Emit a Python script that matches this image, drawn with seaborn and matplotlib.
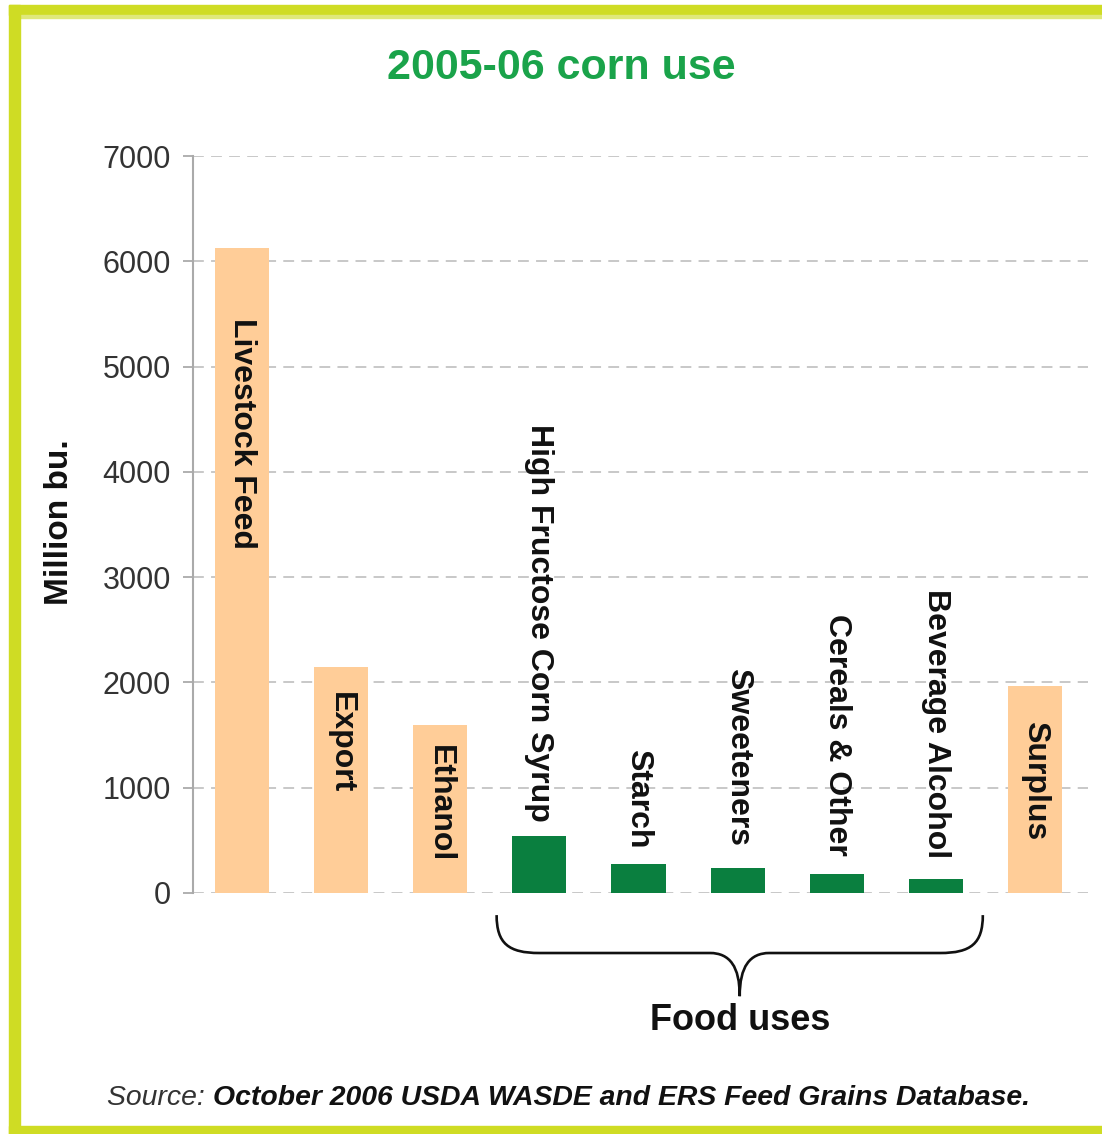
import pandas as pd
import seaborn as sns
import matplotlib.pyplot as plt
from matplotlib.path import Path
from matplotlib.patches import PathPatch, Rectangle

# values (million bushels)
categories = ['Livestock Feed', 'Export', 'Ethanol', 'High Fructose Corn Syrup',
              'Starch', 'Sweeteners', 'Cereals & Other', 'Beverage Alcohol', 'Surplus']
values = [6130, 2150, 1600, 540, 280, 235, 185, 135, 1970]
groups = ['other', 'other', 'other', 'food', 'food', 'food', 'food', 'food', 'other']
y_ticks = [0, 1000, 2000, 3000, 4000, 5000, 6000, 7000]

df = pd.DataFrame({'use': categories, 'bu': values, 'group': groups})

ORANGE = '#ffcd98'
GREEN = '#0a7f3f'
BORDER = '#cfdc24'
TITLE_GREEN = '#1aa34a'

sns.set_style('white')
plt.rcParams['font.family'] = ['Liberation Sans', 'DejaVu Sans']

fig = plt.figure(figsize=(11.02, 11.34), dpi=100)
W, H = 1102, 1134
ax = fig.add_axes([193 / W, 1 - 893 / H, (1088 - 193) / W, (893 - 156) / H])

sns.barplot(data=df, x='use', y='bu', hue='group',
            palette={'other': ORANGE, 'food': GREEN},
            width=0.545, dodge=False, legend=False, ax=ax,
            saturation=1, linewidth=0)

ax.set_xlim(-0.49, 8.53)
ax.set_ylim(0, 7000)
ax.set_yticks(y_ticks)
ax.set_yticklabels([str(t) for t in y_ticks], fontsize=22, color='#333333')
ax.set_xticks([])
ax.set_xlabel('')
ax.set_ylabel('')
ax.yaxis.grid(True, color='#c4c4c4', linestyle=(0, (6, 4)), linewidth=1.3)
ax.set_axisbelow(True)
ax.tick_params(axis='y', length=7, width=1.3, color='#aaaaaa', pad=9, left=True)
for s in ['top', 'right', 'bottom']:
    ax.spines[s].set_visible(False)
ax.spines['left'].set_color('#aaaaaa')
ax.spines['left'].set_linewidth(1.5)

# rotated labels: inside orange bars, above green bars
label_gap = [70, 25, 20, 14, 15, 22, 18, 21, 35]
for i, (name, v, g) in enumerate(zip(categories, values, groups)):
    if g == 'food':
        ax.annotate(name, (i, v), xytext=(0, label_gap[i]), textcoords='offset pixels',
                    rotation=-90, ha='center', va='bottom', fontsize=23,
                    fontweight='bold', color='#111111')
    else:
        ax.annotate(name, (i, v), xytext=(0, -label_gap[i]), textcoords='offset pixels',
                    rotation=-90, ha='center', va='top', fontsize=23,
                    fontweight='bold', color='#111111')

# brace under the food uses
food_idx = [i for i, g in enumerate(groups) if g == 'food']
x0, x1 = food_idx[0] - 0.43, food_idx[-1] + 0.47
xc = (x0 + x1) / 2
yt, ym, yb = -210, -570, -980
verts = [(x0, yt), (x0, -480), (x0 + 0.12, ym), (x0 + 0.43, ym),
         (xc - 0.3, ym),
         (xc - 0.1, ym), (xc, -700), (xc, yb),
         (xc, -700), (xc + 0.1, ym), (xc + 0.3, ym),
         (x1 - 0.43, ym),
         (x1 - 0.12, ym), (x1, -480), (x1, yt)]
codes = [Path.MOVETO, Path.CURVE4, Path.CURVE4, Path.CURVE4,
         Path.LINETO,
         Path.CURVE4, Path.CURVE4, Path.CURVE4,
         Path.CURVE4, Path.CURVE4, Path.CURVE4,
         Path.LINETO,
         Path.CURVE4, Path.CURVE4, Path.CURVE4]
ax.add_patch(PathPatch(Path(verts, codes), fill=False, lw=1.9,
                       edgecolor='#111111', clip_on=False))
ax.text(xc, -1215, 'Food uses', ha='center', va='center', fontsize=26,
        fontweight='bold', color='#111111', clip_on=False)

# title, axis label, source
fig.text(561 / W, 1 - 79 / H, '2005-06 corn use', ha='center', va='baseline',
         fontsize=31, fontweight='bold', color=TITLE_GREEN)
fig.text(59 / W, 1 - 522 / H, 'Million bu.', rotation=90, ha='center', va='center',
         fontsize=24, fontweight='bold', color='#111111')
src = fig.text(107 / W, 1 - 1105 / H, 'Source: ', ha='left', va='baseline',
               fontsize=20.4, style='italic', color='#333333')
ax.annotate('October 2006 USDA WASDE and ERS Feed Grains Database.',
            xy=(1, 0), xycoords=src, va='bottom', ha='left', fontsize=20.4,
            style='italic', fontweight='bold', color='#111111', annotation_clip=False)

# yellow-green frame (top, left, bottom)
fig.patches.append(Rectangle((9 / W, 1 - 15 / H), 1, 10 / H, transform=fig.transFigure,
                             color=BORDER, zorder=0))
fig.patches.append(Rectangle((20 / W, 1 - 18 / H), 1, 3 / H, transform=fig.transFigure,
                             color='#dfe87a', zorder=0))
fig.patches.append(Rectangle((9 / W, 0), 11 / W, 1 - 5 / H, transform=fig.transFigure,
                             color=BORDER, zorder=0))
fig.patches.append(Rectangle((9 / W, 0), 1, 8 / H, transform=fig.transFigure,
                             color=BORDER, zorder=0))

fig.savefig('out.png', dpi=100)
